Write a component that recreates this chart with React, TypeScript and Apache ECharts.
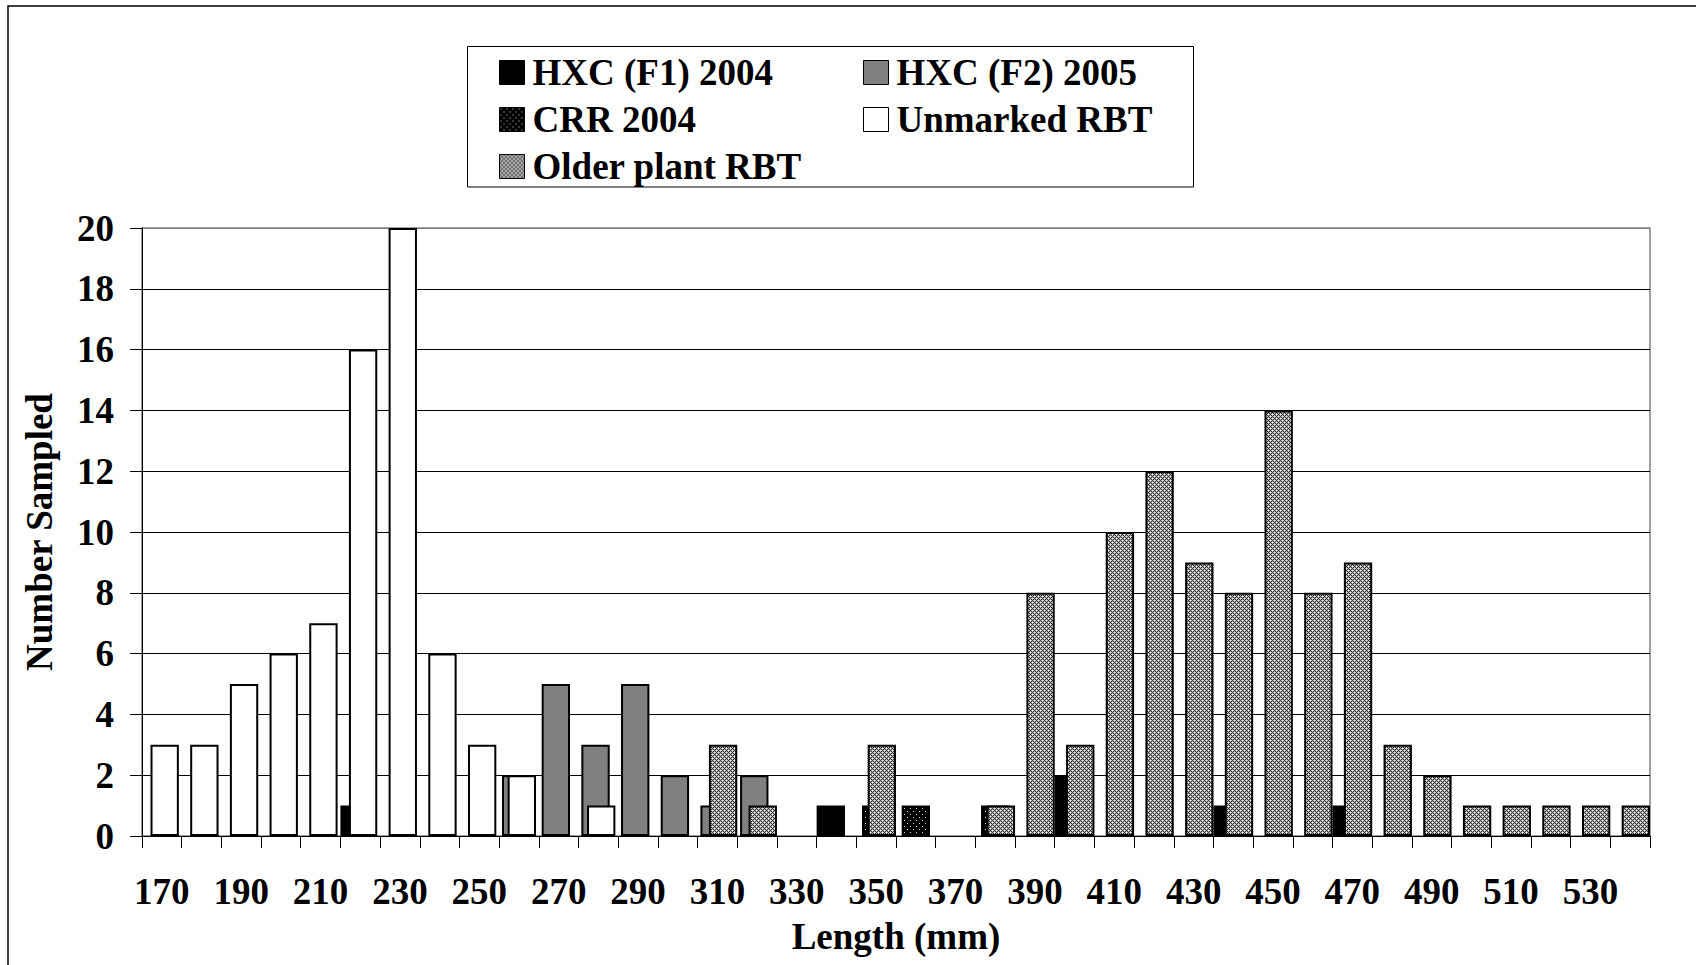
import React, { useEffect, useRef } from 'react';
import * as echarts from 'echarts';

const lengthCategories = [
  '170', '180', '190', '200', '210', '220', '230', '240', '250', '260',
  '270', '280', '290', '300', '310', '320', '330', '340', '350', '360',
  '370', '380', '390', '400', '410', '420', '430', '440', '450', '460',
  '470', '480', '490', '500', '510', '520', '530', '540',
];

const hxcF1_2004 = [0, 0, 0, 0, 0, 1, 0, 0, 0, 0, 0, 0, 0, 0, 0, 0, 0, 1, 0, 0, 0, 0, 0, 2, 0, 0, 0, 1, 0, 0, 1, 0, 0, 0, 0, 0, 0, 0];
const hxcF2_2005 = [0, 0, 0, 0, 0, 0, 0, 0, 0, 2, 5, 3, 5, 2, 1, 2, 0, 0, 0, 0, 0, 0, 0, 0, 0, 0, 0, 0, 0, 0, 0, 0, 0, 0, 0, 0, 0, 0];
const crr2004 = [0, 0, 0, 0, 0, 0, 0, 0, 0, 0, 0, 0, 0, 0, 0, 0, 0, 0, 1, 1, 0, 1, 0, 0, 0, 0, 0, 0, 0, 0, 0, 0, 0, 0, 0, 0, 0, 0];
const unmarkedRBT = [3, 3, 5, 6, 7, 16, 20, 6, 3, 2, 0, 1, 0, 0, 0, 0, 0, 0, 0, 0, 0, 0, 0, 0, 0, 0, 0, 0, 0, 0, 0, 0, 0, 0, 0, 0, 0, 0];
const olderPlantRBT = [0, 0, 0, 0, 0, 0, 0, 0, 0, 0, 0, 0, 0, 0, 3, 1, 0, 0, 3, 0, 0, 1, 8, 3, 10, 12, 9, 8, 14, 8, 9, 3, 2, 1, 1, 1, 1, 1];

const yMin = 0;
const yMax = 20;
const yInterval = 2;

const FONT = '"Liberation Serif", "Times New Roman", serif';

function makeTile(size: number, pick: (x: number, y: number) => string) {
  const c = document.createElement('canvas');
  c.width = size;
  c.height = size;
  const ctx = c.getContext('2d')!;
  for (let y = 0; y < size; y++) {
    for (let x = 0; x < size; x++) {
      ctx.fillStyle = pick(x, y);
      ctx.fillRect(x, y, 1, 1);
    }
  }
  return { image: c, imageWidth: size, imageHeight: size, repeat: 'repeat' as const };
}

export default function App() {
  const ref = useRef<HTMLDivElement>(null);

  useEffect(() => {
    if (!ref.current) return;
    const chart = echarts.init(ref.current, undefined, { renderer: 'svg' });

    const olderPattern = makeTile(4, (x, y) => {
      if ((x + y) % 4 === 0 || (x - y + 4) % 4 === 0) return '#303030';
      if ((x === 0 && y === 2) || (x === 2 && y === 0)) return '#ffffff';
      return '#b4b4b4';
    });
    const crrPattern = makeTile(6, (x, y) => {
      if ((x === 1 && y === 1) || (x === 4 && y === 4)) return '#d8d8d8';
      return '#000000';
    });

    const toData = (arr: number[]) => arr.map((v) => (v === 0 ? '-' : v));
    const border = { borderColor: '#000', borderWidth: 2 };

    const textStyle = {
      fontFamily: FONT,
      fontWeight: 'bold' as const,
      fontSize: 37,
      color: '#000',
    };

    const legendCommon = {
      orient: 'vertical' as const,
      top: 49,
      itemWidth: 25,
      itemHeight: 24,
      itemGap: 10,
      icon: 'rect',
      selectedMode: false,
      itemStyle: { borderWidth: 1, borderColor: '#000' },
      textStyle: { ...textStyle, lineHeight: 37, padding: [0, 0, 0, 3] },
    };

    const splitColors: string[] = [];
    for (let v = yMin; v <= yMax; v += yInterval) splitColors.push(v === yMax ? '#808080' : '#000');

    chart.setOption({
      animation: false,
      backgroundColor: '#fff',
      grid: {
        left: 142,
        top: 228,
        width: 1508,
        height: 608,
        show: true,
        borderColor: '#808080',
        borderWidth: 1.5,
      },
      legend: [
        { ...legendCommon, left: 494, data: ['HXC (F1) 2004', 'CRR 2004', 'Older plant RBT'] },
        { ...legendCommon, left: 858, data: ['HXC (F2) 2005', 'Unmarked RBT'] },
      ],
      xAxis: {
        type: 'category',
        data: lengthCategories,
        boundaryGap: true,
        name: 'Length (mm)',
        nameLocation: 'middle',
        nameGap: 82,
        nameTextStyle: { ...textStyle },
        axisLine: { show: true, lineStyle: { color: '#000', width: 1 } },
        axisTick: { show: true, interval: 0, length: 12, lineStyle: { color: '#000', width: 1 } },
        axisLabel: { interval: 1, margin: 37, ...textStyle },
        splitLine: { show: false },
      },
      yAxis: {
        type: 'value',
        min: yMin,
        max: yMax,
        interval: yInterval,
        name: 'Number Sampled',
        nameLocation: 'middle',
        nameGap: 84,
        nameTextStyle: { ...textStyle },
        axisLine: { show: true, lineStyle: { color: '#000', width: 1 } },
        axisTick: { show: true, length: 12, lineStyle: { color: '#000', width: 1 } },
        axisLabel: { margin: 28, ...textStyle },
        splitLine: { show: true, lineStyle: { color: splitColors, width: 1 } },
      },
      series: [
        { name: 'HXC (F1) 2004', type: 'bar', data: toData(hxcF1_2004), itemStyle: { color: '#000', ...border } },
        { name: 'HXC (F2) 2005', type: 'bar', data: toData(hxcF2_2005), itemStyle: { color: '#808080', ...border } },
        { name: 'CRR 2004', type: 'bar', data: toData(crr2004), itemStyle: { color: crrPattern, ...border } },
        { name: 'Unmarked RBT', type: 'bar', data: toData(unmarkedRBT), itemStyle: { color: '#fff', ...border } },
        { name: 'Older plant RBT', type: 'bar', data: toData(olderPlantRBT), itemStyle: { color: olderPattern, ...border } },
      ].map((s) => ({ ...s, barGap: '-90%', barCategoryGap: '0%' })),
      graphic: [
        {
          type: 'rect',
          shape: { x: 8, y: 6, width: 1700, height: 1000 },
          style: { fill: 'none', stroke: '#000', lineWidth: 1.5 },
          silent: true,
        },
        {
          type: 'rect',
          shape: { x: 467.5, y: 46.5, width: 726, height: 140.5 },
          style: { fill: 'none', stroke: '#000', lineWidth: 1 },
          silent: true,
        },
      ],
    });

    return () => chart.dispose();
  }, []);

  return (
    <div
      ref={ref}
      style={{ position: 'fixed', left: 0, top: 0, width: 1696, height: 965, background: '#fff' }}
    />
  );
}
